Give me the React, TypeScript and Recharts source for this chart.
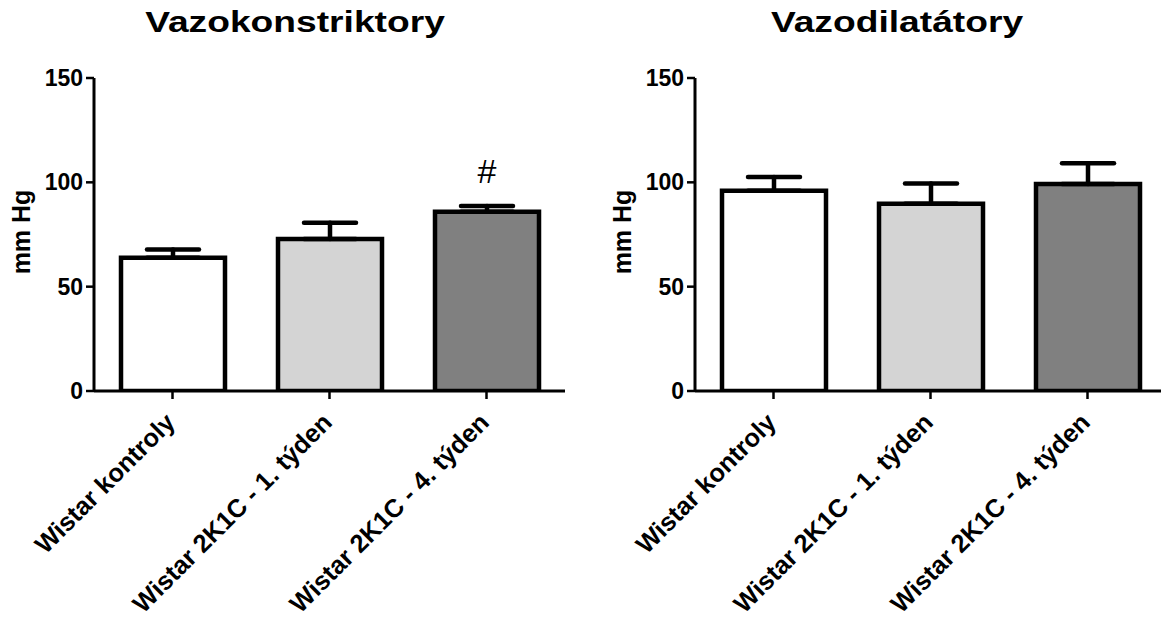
import React from 'react';
import { BarChart, Bar, XAxis, YAxis, Cell, ErrorBar, LabelList } from 'recharts';

const categories = ['Wistar kontroly', 'Wistar 2K1C - 1. týden', 'Wistar 2K1C - 4. týden'];
const constrictorMeans = [63.8, 72.9, 85.9];
const constrictorErr = [4.0, 7.7, 2.7];
const constrictorMarks = ['', '', '#'];
const dilatorMeans = [96.0, 89.7, 99.2];
const dilatorErr = [6.6, 9.8, 10.0];
const dilatorMarks = ['', '', ''];
const barFills = ['#ffffff', '#d4d4d4', '#808080'];
const yTicks = [0, 50, 100, 150];
const titles = ['Vazokonstriktory', 'Vazodilatátory'];
const yLabel = 'mm Hg';

const FONT = '"Liberation Sans", Arial, Helvetica, sans-serif';

const build = (means: number[], errs: number[], marks: string[]) =>
  categories.map((c, i) => ({ name: c, value: means[i], err: [0, errs[i]], mark: marks[i] }));

const constrictorData = build(constrictorMeans, constrictorErr, constrictorMarks);
const dilatorData = build(dilatorMeans, dilatorErr, dilatorMarks);

const XTick = (props: any) => {
  const { x, y, payload } = props;
  return (
    <g transform={`translate(${x + 4},${y + 25})`}>
      <text
        textAnchor="end"
        transform="rotate(-45)"
        fontSize={25.5}
        fontWeight="bold"
        fontFamily={FONT}
        fill="#000"
      >
        {payload.value}
      </text>
    </g>
  );
};

const Panel = ({ data, yWidth, width, marginRight }: any) => (
  <BarChart
    width={width}
    height={622}
    data={data}
    margin={{ top: 78, right: marginRight, bottom: 31, left: 0 }}
    barCategoryGap={0}
  >
    <XAxis
      dataKey="name"
      height={200}
      interval={0}
      tick={<XTick />}
      tickSize={8}
      tickMargin={0}
      axisLine={{ stroke: '#000', strokeWidth: 3 }}
      tickLine={{ stroke: '#000', strokeWidth: 2.5 }}
    />
    <YAxis
      width={yWidth}
      domain={[0, 150]}
      ticks={yTicks}
      allowDataOverflow
      tickSize={8}
      tickMargin={3}
      axisLine={{ stroke: '#000', strokeWidth: 3 }}
      tickLine={{ stroke: '#000', strokeWidth: 2.5 }}
      tick={{ fill: '#000', fontSize: 23, fontWeight: 'bold', fontFamily: FONT }}
    />
    <Bar dataKey="value" barSize={104} stroke="#000" strokeWidth={4.5} isAnimationActive={false}>
      {data.map((_: any, i: number) => (
        <Cell key={i} fill={barFills[i]} />
      ))}
      <ErrorBar
        dataKey="err"
        direction="y"
        width={26}
        stroke="#000"
        strokeWidth={4.5}
        strokeLinecap="round"
        isAnimationActive={false}
      />
      <LabelList
        dataKey="mark"
        position="top"
        offset={29}
        fontSize={34}
        fontFamily={FONT}
        fill="#000"
      />
    </Bar>
  </BarChart>
);

export default function App() {
  return (
    <div
      style={{
        position: 'absolute',
        left: 0,
        top: 0,
        width: 1161,
        height: 622,
        overflow: 'hidden',
        background: '#fff',
      }}
    >
      <div style={{ position: 'absolute', left: 0, top: 0 }}>
        <Panel data={constrictorData} yWidth={94} width={580} marginRight={15} />
      </div>
      <div style={{ position: 'absolute', left: 600, top: 0 }}>
        <Panel data={dilatorData} yWidth={95} width={570} marginRight={4} />
      </div>
      <svg
        width={1161}
        height={622}
        style={{ position: 'absolute', left: 0, top: 0, pointerEvents: 'none' }}
      >
        <text
          transform="translate(295,32) scale(1.24,1)"
          textAnchor="middle"
          fontSize={30}
          fontWeight="bold"
          fontFamily={FONT}
          fill="#000"
        >
          {titles[0]}
        </text>
        <text
          transform="translate(897,32) scale(1.24,1)"
          textAnchor="middle"
          fontSize={30}
          fontWeight="bold"
          fontFamily={FONT}
          fill="#000"
        >
          {titles[1]}
        </text>
        <text
          transform="translate(30,232) rotate(-90)"
          textAnchor="middle"
          fontSize={25}
          fontWeight="bold"
          fontFamily={FONT}
          fill="#000"
        >
          {yLabel}
        </text>
        <text
          transform="translate(630.5,232) rotate(-90)"
          textAnchor="middle"
          fontSize={25}
          fontWeight="bold"
          fontFamily={FONT}
          fill="#000"
        >
          {yLabel}
        </text>
      </svg>
    </div>
  );
}
